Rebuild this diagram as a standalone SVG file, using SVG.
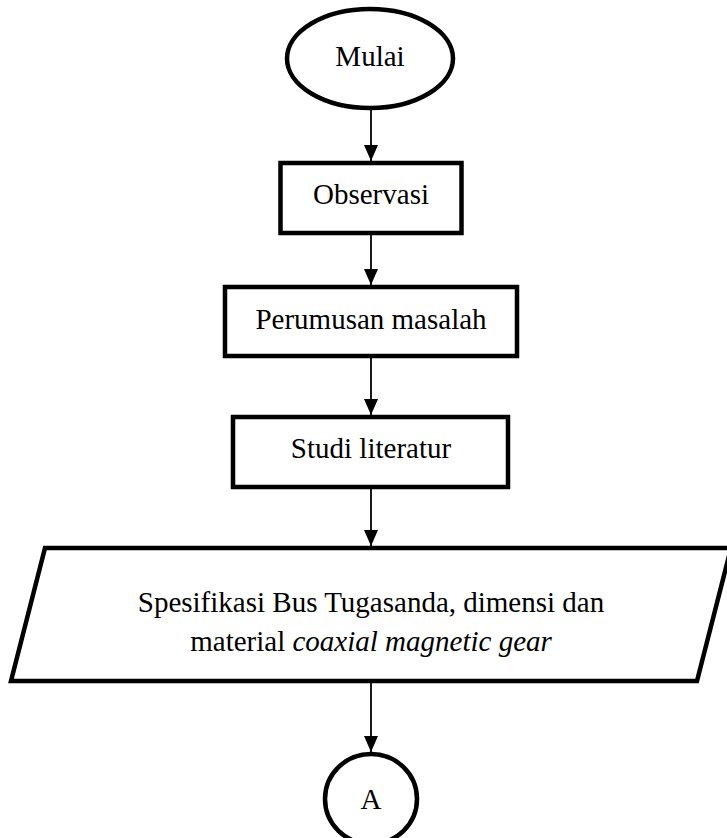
<svg xmlns="http://www.w3.org/2000/svg" width="727" height="838" viewBox="0 0 727 838">
<style>
.s{fill:#fff;stroke:#000;stroke-width:4.5}
.t{font-family:"Liberation Serif","Times New Roman",serif;font-size:29px;fill:#000;text-anchor:middle}
.c{stroke:#000;stroke-width:1.8;fill:none;marker-end:url(#ah)}
</style>
<defs>
<marker id="ah" markerUnits="userSpaceOnUse" markerWidth="16" markerHeight="14" refX="16" refY="7" orient="auto" viewBox="0 0 16 14">
<path d="M0,0 L16,7 L0,14 Z" fill="#000"/>
</marker>
</defs>
<rect width="727" height="838" fill="#fff"/>
<g id="connectors">
<line class="c" x1="371" y1="110" x2="371" y2="161"/>
<line class="c" x1="371" y1="235" x2="371" y2="285"/>
<line class="c" x1="371" y1="358" x2="371" y2="415"/>
<line class="c" x1="371" y1="489" x2="371" y2="546"/>
<line class="c" x1="371" y1="683" x2="371" y2="752"/>
</g>
<g id="mulai">
<ellipse class="s" cx="370" cy="58.5" rx="83" ry="49.5"/>
<text class="t" x="370" y="66">Mulai</text>
</g>
<g id="observasi">
<rect class="s" x="280.5" y="163" width="181" height="70"/>
<text class="t" x="371" y="204">Observasi</text>
</g>
<g id="perumusan">
<rect class="s" x="225" y="287" width="292" height="69"/>
<text class="t" x="371" y="329">Perumusan masalah</text>
</g>
<g id="studi">
<rect class="s" x="233" y="417" width="275" height="70"/>
<text class="t" x="371" y="458">Studi literatur</text>
</g>
<g id="spesifikasi">
<polygon class="s" points="45,548 731,548 697,681 11,681"/>
<text class="t" x="371" y="612">Spesifikasi Bus Tugasanda, dimensi dan</text>
<text class="t" x="371" y="651">material <tspan font-style="italic">coaxial magnetic gear</tspan></text>
</g>
<g id="a">
<ellipse class="s" cx="371" cy="799" rx="46" ry="45"/>
<text class="t" x="371" y="809">A</text>
</g>
</svg>
